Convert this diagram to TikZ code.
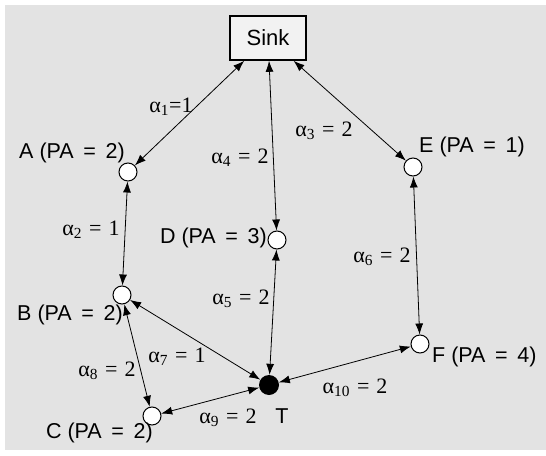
\documentclass[tikz,border=0pt]{standalone}
\usepackage{fontspec}
\setmainfont{Liberation Sans}
\newfontfamily\tnr{Liberation Serif}
\usetikzlibrary{arrows.meta}
\definecolor{bggray}{RGB}{227,227,227}
\definecolor{boxfill}{RGB}{242,242,242}
\newcommand\palabel[2]{#1 (PA\hspace{.45em}=\hspace{.45em}#2)}
\newcommand\alab[2]{α\textsubscript{#1}\hspace{.32em}=\hspace{.32em}#2}
\begin{document}
\begin{tikzpicture}[x=1pt,y=-1pt,
  vtx/.style={circle,draw,fill=white,line width=1pt,minimum size=18pt,inner sep=0pt},
  tgt/.style={circle,fill=black,minimum size=20pt,inner sep=0pt},
  lbl/.style={font=\fontsize{21.5}{25}\selectfont, inner sep=0pt},
  elbl/.style={font=\fontsize{22}{25}\selectfont\tnr, inner sep=0pt, anchor=base},
  link/.style={{Latex[length=11pt,width=8pt]}-{Latex[length=11pt,width=8pt]}, line width=0.8pt},
]
\useasboundingbox (0,0) rectangle (546,455);
\fill[white] (0,0) rectangle (546,455);
\fill[bggray] (5,5) rectangle (546,450);

\node[draw, line width=1.6pt, fill=boxfill, minimum width=76pt, minimum height=44pt,
      inner sep=0pt, font=\fontsize{22}{25}\selectfont] (sink) at (268,38) {Sink};

\node[vtx] (a) at (128,172) {};
\node[vtx] (d) at (277,240) {};
\node[vtx] (e) at (413,167) {};
\node[vtx] (b) at (122,295) {};
\node[vtx] (f) at (420,344) {};
\node[vtx] (c) at (152,416) {};
\node[tgt] (t) at (269,385) {};

\node[lbl, anchor=base east] (la) at (125,158) {\palabel{A}{2}};
\node[lbl, anchor=base east] (ld) at (267,243) {\palabel{D}{3}};
\node[lbl, anchor=base east] (lb) at (123,320) {\palabel{B}{2}};
\node[lbl, anchor=base east] (lc) at (153,438) {\palabel{C}{2}};
\node[lbl, anchor=base west] (le) at (419,152) {\palabel{E}{1}};
\node[lbl, anchor=base west] (lf) at (432,362) {\palabel{F}{4}};
\node[lbl, anchor=base] (lt) at (282,423) {T};

\draw[link] (sink) -- (a);
\draw[link] (sink) -- (d);
\draw[link] (sink) -- (e);
\draw[link] (a) -- (b);
\draw[link] (d) -- (t);
\draw[link] (e) -- (f);
\draw[link] (b) -- (t);
\draw[link] (b) -- (c);
\draw[link] (c) -- (t);
\draw[link] (f) -- (t);

\node[elbl] (e1) at (171,112) {α\textsubscript{1}=1};
\node[elbl] (e2) at (91,235) {\alab{2}{1}};
\node[elbl] (e3) at (324,136) {\alab{3}{2}};
\node[elbl] (e4) at (240,163) {\alab{4}{2}};
\node[elbl] (e5) at (241,304) {\alab{5}{2}};
\node[elbl] (e6) at (382,262) {\alab{6}{2}};
\node[elbl] (e7) at (177,362) {\alab{7}{1}};
\node[elbl] (e8) at (107,376) {\alab{8}{2}};
\node[elbl] (e9) at (228,423) {\alab{9}{2}};
\node[elbl] (e10) at (355,393) {\alab{10}{2}};
\end{tikzpicture}
\end{document}
